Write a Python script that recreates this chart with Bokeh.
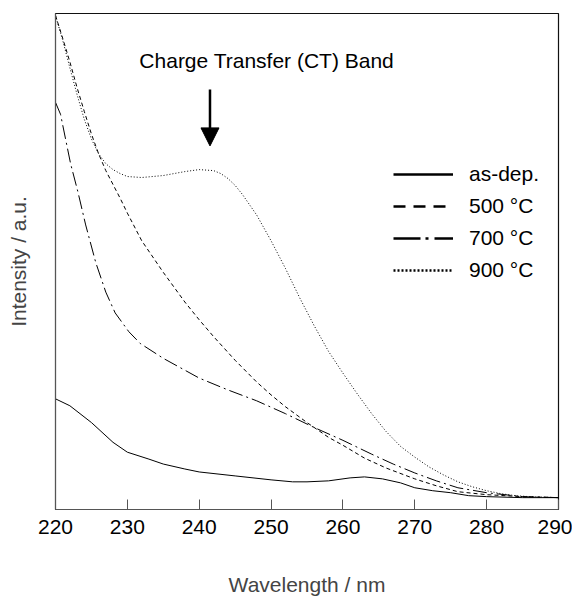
from bokeh.plotting import figure
from bokeh.models import Range1d, Legend, LegendItem, Label, Arrow, NormalHead, FixedTicker
from bokeh.embed import file_html
from bokeh.resources import INLINE

# ---- data (arbitrary intensity units) ----
wl_asdep = [220, 222, 225, 228, 230, 233, 235, 238, 240, 245, 250, 253, 255, 258, 261, 263, 265.5, 268, 270, 272.5, 275, 277.5, 280, 285, 290]
int_asdep = [112, 105, 88, 68, 58, 51, 46, 41, 38, 34, 30, 28, 28, 29, 32, 33, 31, 27, 22, 19, 17, 14, 13, 12, 12]

wl_500 = [220, 221, 222, 223, 224, 225, 226, 227, 228, 229, 230, 232, 235, 238, 240, 242, 245, 248, 250, 252, 255, 258, 260, 263, 266, 270, 273, 276, 280, 285, 290]
int_500 = [500, 477, 453, 427, 403, 380, 360, 343, 329, 315, 300, 272, 240, 210, 192, 175, 151, 129, 116, 104, 88, 73, 65, 52, 42, 31, 24, 18, 15, 13, 12]

wl_700 = [220, 220.7, 222.1, 223.1, 224.2, 225.6, 227, 228.3, 230.2, 231.8, 235, 238, 240, 244, 248, 252, 256, 260, 264, 267, 270, 273, 276, 280, 285, 290]
int_700 = [412, 400, 350, 322, 288, 250, 220, 199, 180, 168, 153, 141, 133, 121, 110, 97, 83, 70, 56, 46, 37, 29, 22, 17, 13, 12]

wl_900 = [220, 221, 222, 223, 224, 225, 226, 227, 228, 229, 230, 232, 235, 238, 240, 242, 243, 244, 245, 246, 248, 250, 252, 254, 256, 258, 260, 262, 264, 266, 268, 270, 272, 274, 276, 278, 280, 282, 284, 286, 290]
int_900 = [500, 475, 447, 420, 395, 375, 360, 350, 344, 340, 337, 336, 338, 342, 344, 343, 340, 335, 328, 319, 298, 272, 244, 214, 186, 160, 138, 117, 97, 79, 64, 53, 43, 35, 28, 23, 19, 16, 14, 13, 12]

series_names = ["as-dep.", "500 \u00b0C", "700 \u00b0C", "900 \u00b0C"]
x_ticks = [220, 230, 240, 250, 260, 270, 280, 290]

FONT = "Liberation Sans"

p = figure(width=572, height=598, output_backend="svg", toolbar_location=None,
           x_range=Range1d(220, 290), y_range=Range1d(0, 502),
           min_border_left=55, min_border_right=14, min_border_top=13, min_border_bottom=83)
p.grid.visible = False
p.outline_line_color = "#111111"
p.outline_line_width = 1.2
p.background_fill_color = "white"
p.border_fill_color = "white"

# x axis
p.xaxis.ticker = FixedTicker(ticks=x_ticks)
p.xaxis.major_tick_in = 10
p.xaxis.major_tick_out = 0
p.xaxis.minor_tick_line_color = None
p.xaxis.major_label_standoff = 10
p.xaxis.major_label_text_font = FONT
p.xaxis.major_label_text_font_size = "21px"
p.xaxis.major_label_text_color = "black"
p.xaxis.axis_label = "Wavelength / nm"
p.xaxis.axis_label_text_font = FONT
p.xaxis.axis_label_text_font_size = "21px"
p.xaxis.axis_label_text_font_style = "normal"
p.xaxis.axis_label_standoff = 36
p.xaxis.axis_line_color = "#555555"
p.xaxis.major_tick_line_color = "#555555"

# y axis
p.yaxis.ticker = FixedTicker(ticks=[])
p.yaxis.major_tick_line_color = None
p.yaxis.minor_tick_line_color = None
p.yaxis.major_label_text_font_size = "0px"
p.yaxis.axis_label = "Intensity / a.u."
p.yaxis.axis_label_text_font = FONT
p.yaxis.axis_label_text_font_size = "21px"
p.yaxis.axis_label_text_font_style = "normal"
p.yaxis.axis_label_standoff = 26
p.yaxis.axis_line_color = "#555555"

# data lines
r1 = p.line(wl_asdep, int_asdep, line_color="black", line_width=1)
r2 = p.line(wl_500, int_500, line_color="black", line_width=1, line_dash="4 3")
r3 = p.line(wl_700, int_700, line_color="black", line_width=1, line_dash="14 4 2 4")
r4 = p.line(wl_900, int_900, line_color="black", line_width=1, line_dash="1 2")

# legend samples (thicker lines, no visible data)
nan = float("nan")
l1 = p.line([nan], [nan], line_color="black", line_width=2.5)
l2 = p.line([nan], [nan], line_color="black", line_width=2.5, line_dash="12 8")
l3 = p.line([nan], [nan], line_color="black", line_width=2.5, line_dash="27 5 3 6")
l4 = p.line([nan], [nan], line_color="black", line_width=2.5, line_dash="2 2")

legend = Legend(items=[LegendItem(label=series_names[0], renderers=[l1]),
                       LegendItem(label=series_names[1], renderers=[l2]),
                       LegendItem(label=series_names[2], renderers=[l3]),
                       LegendItem(label=series_names[3], renderers=[l4])],
                location=(338, 226), glyph_width=60, glyph_height=26, label_height=26,
                spacing=6, label_standoff=16, padding=0, margin=0,
                border_line_color=None, background_fill_alpha=0,
                label_text_font=FONT, label_text_font_size="21px", label_text_color="black")
p.add_layout(legend, "center")

# annotation
p.add_layout(Label(x=249.4, y=454, text="Charge Transfer (CT) Band", text_font=FONT,
                   text_font_size="21px", text_align="center", text_baseline="middle",
                   text_color="black"))
p.add_layout(Arrow(x_start=241.5, y_start=425, x_end=241.5, y_end=368, line_width=2.5,
                   line_color="black",
                   end=NormalHead(size=18, fill_color="black", line_color="black")))

open("out.html", "w").write(file_html(p, INLINE))
